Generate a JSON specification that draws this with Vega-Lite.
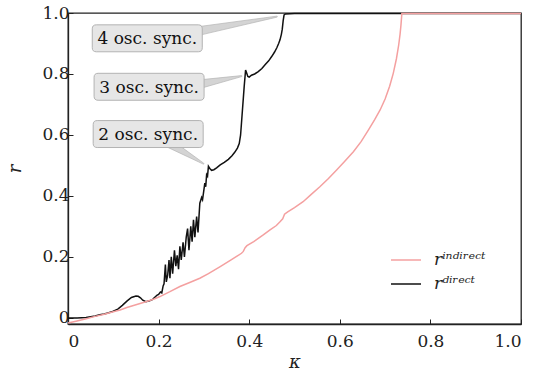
{
  "$schema": "https://vega.github.io/schema/vega-lite/v6.json",
  "width": 453,
  "height": 311,
  "autosize": {"type": "none"},
  "padding": {"left": 68, "top": 13, "right": 21, "bottom": 46},
  "config": {
    "view": {"stroke": "#222222", "strokeWidth": 1.3},
    "font": "DejaVu Serif",
    "axis": {
      "grid": false,
      "domainColor": "#222222",
      "domainWidth": 1.3,
      "tickColor": "#222222",
      "tickWidth": 1,
      "tickSize": -5,
      "labelFont": "DejaVu Serif",
      "labelFontSize": 17,
      "labelColor": "#222222",
      "titleFont": "DejaVu Serif",
      "titleFontSize": 18,
      "titleFontStyle": "italic",
      "titleFontWeight": "normal",
      "titleColor": "#222222"
    }
  },
  "datasets": {
    "curves": [
      {"series": "direct", "kappa": 0.0, "r": 0.0},
      {"series": "direct", "kappa": 0.02, "r": 0.0},
      {"series": "direct", "kappa": 0.04, "r": 0.001},
      {"series": "direct", "kappa": 0.06, "r": 0.006},
      {"series": "direct", "kappa": 0.07, "r": 0.01},
      {"series": "direct", "kappa": 0.08, "r": 0.013},
      {"series": "direct", "kappa": 0.09, "r": 0.017},
      {"series": "direct", "kappa": 0.1, "r": 0.022},
      {"series": "direct", "kappa": 0.11, "r": 0.029},
      {"series": "direct", "kappa": 0.12, "r": 0.041},
      {"series": "direct", "kappa": 0.13, "r": 0.055},
      {"series": "direct", "kappa": 0.14, "r": 0.067},
      {"series": "direct", "kappa": 0.15, "r": 0.072},
      {"series": "direct", "kappa": 0.155, "r": 0.071},
      {"series": "direct", "kappa": 0.16, "r": 0.066},
      {"series": "direct", "kappa": 0.165, "r": 0.058},
      {"series": "direct", "kappa": 0.172, "r": 0.053},
      {"series": "direct", "kappa": 0.18, "r": 0.056},
      {"series": "direct", "kappa": 0.187, "r": 0.061},
      {"series": "direct", "kappa": 0.192, "r": 0.068},
      {"series": "direct", "kappa": 0.196, "r": 0.074},
      {"series": "direct", "kappa": 0.2, "r": 0.077},
      {"series": "direct", "kappa": 0.204, "r": 0.085},
      {"series": "direct", "kappa": 0.207, "r": 0.082},
      {"series": "direct", "kappa": 0.21, "r": 0.105},
      {"series": "direct", "kappa": 0.212, "r": 0.112},
      {"series": "direct", "kappa": 0.215, "r": 0.175},
      {"series": "direct", "kappa": 0.217, "r": 0.118},
      {"series": "direct", "kappa": 0.22, "r": 0.14},
      {"series": "direct", "kappa": 0.223, "r": 0.19},
      {"series": "direct", "kappa": 0.225, "r": 0.13},
      {"series": "direct", "kappa": 0.228, "r": 0.2},
      {"series": "direct", "kappa": 0.231, "r": 0.145},
      {"series": "direct", "kappa": 0.235, "r": 0.222},
      {"series": "direct", "kappa": 0.238, "r": 0.17},
      {"series": "direct", "kappa": 0.241, "r": 0.205},
      {"series": "direct", "kappa": 0.244, "r": 0.16},
      {"series": "direct", "kappa": 0.247, "r": 0.235},
      {"series": "direct", "kappa": 0.25, "r": 0.19},
      {"series": "direct", "kappa": 0.254, "r": 0.248},
      {"series": "direct", "kappa": 0.257, "r": 0.2},
      {"series": "direct", "kappa": 0.261, "r": 0.265},
      {"series": "direct", "kappa": 0.264, "r": 0.293},
      {"series": "direct", "kappa": 0.267, "r": 0.222},
      {"series": "direct", "kappa": 0.271, "r": 0.3},
      {"series": "direct", "kappa": 0.274, "r": 0.25},
      {"series": "direct", "kappa": 0.277, "r": 0.322},
      {"series": "direct", "kappa": 0.28, "r": 0.265},
      {"series": "direct", "kappa": 0.284, "r": 0.332},
      {"series": "direct", "kappa": 0.287, "r": 0.28},
      {"series": "direct", "kappa": 0.291, "r": 0.376},
      {"series": "direct", "kappa": 0.295, "r": 0.395},
      {"series": "direct", "kappa": 0.297, "r": 0.388},
      {"series": "direct", "kappa": 0.3, "r": 0.42},
      {"series": "direct", "kappa": 0.302, "r": 0.442},
      {"series": "direct", "kappa": 0.304, "r": 0.43},
      {"series": "direct", "kappa": 0.306, "r": 0.47},
      {"series": "direct", "kappa": 0.308, "r": 0.465},
      {"series": "direct", "kappa": 0.31, "r": 0.497},
      {"series": "direct", "kappa": 0.313, "r": 0.49},
      {"series": "direct", "kappa": 0.317, "r": 0.484},
      {"series": "direct", "kappa": 0.322, "r": 0.486},
      {"series": "direct", "kappa": 0.328, "r": 0.492},
      {"series": "direct", "kappa": 0.336, "r": 0.502},
      {"series": "direct", "kappa": 0.345, "r": 0.51},
      {"series": "direct", "kappa": 0.354, "r": 0.52},
      {"series": "direct", "kappa": 0.362, "r": 0.532},
      {"series": "direct", "kappa": 0.368, "r": 0.543},
      {"series": "direct", "kappa": 0.374, "r": 0.557},
      {"series": "direct", "kappa": 0.378, "r": 0.572},
      {"series": "direct", "kappa": 0.381, "r": 0.6},
      {"series": "direct", "kappa": 0.383, "r": 0.64},
      {"series": "direct", "kappa": 0.385, "r": 0.68},
      {"series": "direct", "kappa": 0.387, "r": 0.72},
      {"series": "direct", "kappa": 0.389, "r": 0.76},
      {"series": "direct", "kappa": 0.391, "r": 0.795},
      {"series": "direct", "kappa": 0.392, "r": 0.813},
      {"series": "direct", "kappa": 0.394, "r": 0.805},
      {"series": "direct", "kappa": 0.397, "r": 0.792},
      {"series": "direct", "kappa": 0.4, "r": 0.79},
      {"series": "direct", "kappa": 0.405, "r": 0.796},
      {"series": "direct", "kappa": 0.412, "r": 0.8},
      {"series": "direct", "kappa": 0.42, "r": 0.808},
      {"series": "direct", "kappa": 0.428, "r": 0.818},
      {"series": "direct", "kappa": 0.435, "r": 0.83},
      {"series": "direct", "kappa": 0.443, "r": 0.843},
      {"series": "direct", "kappa": 0.45, "r": 0.858},
      {"series": "direct", "kappa": 0.456, "r": 0.872},
      {"series": "direct", "kappa": 0.461, "r": 0.886},
      {"series": "direct", "kappa": 0.465, "r": 0.9},
      {"series": "direct", "kappa": 0.468, "r": 0.912},
      {"series": "direct", "kappa": 0.471, "r": 0.93},
      {"series": "direct", "kappa": 0.473, "r": 0.947},
      {"series": "direct", "kappa": 0.475, "r": 0.975},
      {"series": "direct", "kappa": 0.477, "r": 0.994},
      {"series": "direct", "kappa": 0.48, "r": 0.997},
      {"series": "direct", "kappa": 0.5, "r": 0.998},
      {"series": "direct", "kappa": 0.6, "r": 0.998},
      {"series": "direct", "kappa": 1.0, "r": 0.998},
      {"series": "indirect", "kappa": 0.0, "r": -0.017},
      {"series": "indirect", "kappa": 0.02, "r": -0.01},
      {"series": "indirect", "kappa": 0.04, "r": -0.003},
      {"series": "indirect", "kappa": 0.06, "r": 0.005},
      {"series": "indirect", "kappa": 0.08, "r": 0.012},
      {"series": "indirect", "kappa": 0.1, "r": 0.02},
      {"series": "indirect", "kappa": 0.115, "r": 0.026},
      {"series": "indirect", "kappa": 0.13, "r": 0.034},
      {"series": "indirect", "kappa": 0.15, "r": 0.043},
      {"series": "indirect", "kappa": 0.17, "r": 0.052},
      {"series": "indirect", "kappa": 0.19, "r": 0.062},
      {"series": "indirect", "kappa": 0.203, "r": 0.07},
      {"series": "indirect", "kappa": 0.225, "r": 0.086},
      {"series": "indirect", "kappa": 0.247, "r": 0.103},
      {"series": "indirect", "kappa": 0.27, "r": 0.117},
      {"series": "indirect", "kappa": 0.291, "r": 0.13},
      {"series": "indirect", "kappa": 0.31, "r": 0.145},
      {"series": "indirect", "kappa": 0.336, "r": 0.168},
      {"series": "indirect", "kappa": 0.36, "r": 0.19},
      {"series": "indirect", "kappa": 0.383, "r": 0.212},
      {"series": "indirect", "kappa": 0.387, "r": 0.218},
      {"series": "indirect", "kappa": 0.391, "r": 0.23},
      {"series": "indirect", "kappa": 0.395, "r": 0.237},
      {"series": "indirect", "kappa": 0.41, "r": 0.25},
      {"series": "indirect", "kappa": 0.431, "r": 0.272},
      {"series": "indirect", "kappa": 0.446, "r": 0.289},
      {"series": "indirect", "kappa": 0.46, "r": 0.303},
      {"series": "indirect", "kappa": 0.468, "r": 0.315},
      {"series": "indirect", "kappa": 0.474, "r": 0.325},
      {"series": "indirect", "kappa": 0.478, "r": 0.34},
      {"series": "indirect", "kappa": 0.485, "r": 0.348},
      {"series": "indirect", "kappa": 0.5, "r": 0.362},
      {"series": "indirect", "kappa": 0.519, "r": 0.381},
      {"series": "indirect", "kappa": 0.537, "r": 0.405},
      {"series": "indirect", "kappa": 0.556, "r": 0.43},
      {"series": "indirect", "kappa": 0.575, "r": 0.457},
      {"series": "indirect", "kappa": 0.593, "r": 0.485},
      {"series": "indirect", "kappa": 0.61, "r": 0.512},
      {"series": "indirect", "kappa": 0.63, "r": 0.545},
      {"series": "indirect", "kappa": 0.647, "r": 0.578},
      {"series": "indirect", "kappa": 0.663, "r": 0.616},
      {"series": "indirect", "kappa": 0.677, "r": 0.65},
      {"series": "indirect", "kappa": 0.689, "r": 0.682},
      {"series": "indirect", "kappa": 0.7, "r": 0.718},
      {"series": "indirect", "kappa": 0.71, "r": 0.76},
      {"series": "indirect", "kappa": 0.718, "r": 0.802},
      {"series": "indirect", "kappa": 0.725, "r": 0.85},
      {"series": "indirect", "kappa": 0.73, "r": 0.895},
      {"series": "indirect", "kappa": 0.733, "r": 0.93},
      {"series": "indirect", "kappa": 0.735, "r": 0.96},
      {"series": "indirect", "kappa": 0.737, "r": 0.998},
      {"series": "indirect", "kappa": 0.8, "r": 0.998},
      {"series": "indirect", "kappa": 1.0, "r": 0.998}
    ],
    "boxes": [
      {"label": "4 osc. sync.", "kappa": 0.175, "r": 0.917},
      {"label": "3 osc. sync.", "kappa": 0.179, "r": 0.758},
      {"label": "2 osc. sync.", "kappa": 0.177, "r": 0.603}
    ],
    "wedges": [
      {"ann": "4", "end": 0, "kappa": 0.292, "r": 0.942, "w": 1},
      {"ann": "4", "end": 1, "kappa": 0.461, "r": 0.988, "w": 0},
      {"ann": "3", "end": 0, "kappa": 0.292, "r": 0.767, "w": 1},
      {"ann": "3", "end": 1, "kappa": 0.383, "r": 0.793, "w": 0},
      {"ann": "2", "end": 0, "kappa": 0.224, "r": 0.572, "w": 1},
      {"ann": "2", "end": 1, "kappa": 0.299, "r": 0.506, "w": 0}
    ]
  },
  "layer": [
    {
      "data": {"name": "curves"},
      "mark": {"type": "line", "strokeWidth": 1.5},
      "encoding": {
        "x": {
          "field": "kappa", "type": "quantitative",
          "scale": {"domain": [0, 1], "nice": false, "zero": false},
          "axis": {
            "title": "κ",
            "values": [0, 0.2, 0.4, 0.6, 0.8, 1.0],
            "labelExpr": "datum.value == 0 ? '0' : format(datum.value, '.1f')",
            "labelPadding": 14,
            "titlePadding": 4
          }
        },
        "y": {
          "field": "r", "type": "quantitative",
          "scale": {"domain": [-0.02, 1.0], "nice": false, "zero": false},
          "axis": {
            "title": "r",
            "values": [0, 0.2, 0.4, 0.6, 0.8, 1.0],
            "labelExpr": "datum.value == 0 ? '0' : format(datum.value, '.1f')",
            "labelPadding": 4,
            "titlePadding": 17
          }
        },
        "color": {
          "field": "series", "type": "nominal",
          "scale": {"domain": ["indirect", "direct"], "range": ["#f4a0a0", "#111111"]},
          "legend": {
            "title": null,
            "orient": "none",
            "legendX": 322,
            "legendY": 231,
            "padding": 0,
            "symbolType": "stroke",
            "symbolSize": 900,
            "symbolStrokeWidth": 1.5,
            "labelOffset": 12,
            "labelFont": "DejaVu Serif",
            "labelFontStyle": "italic",
            "labelFontSize": 17,
            "labelColor": "#222222",
            "rowPadding": -8,
            "labelExpr": "datum.value == 'indirect' ? 'rⁱⁿᵈⁱʳᵉᶜᵗ' : 'rᵈⁱʳᵉᶜᵗ'"
          }
        }
      }
    },
    {
      "data": {"name": "wedges"},
      "mark": {"type": "trail", "color": "#d4d4d4", "stroke": "#b5b5b5", "strokeWidth": 0.7},
      "encoding": {
        "x": {"field": "kappa", "type": "quantitative"},
        "y": {"field": "r", "type": "quantitative"},
        "detail": {"field": "ann", "type": "nominal"},
        "order": {"field": "end", "type": "quantitative"},
        "size": {"field": "w", "type": "quantitative", "scale": {"domain": [0, 1], "range": [0, 8.5]}, "legend": null}
      }
    },
    {
      "data": {"name": "boxes"},
      "mark": {
        "type": "point",
        "shape": "M -0.927 -0.245 L 0.927 -0.245 Q 1 -0.245 1 -0.172 L 1 0.172 Q 1 0.245 0.927 0.245 L -0.927 0.245 Q -1 0.245 -1 0.172 L -1 -0.172 Q -1 -0.245 -0.927 -0.245 Z",
        "size": 12100,
        "filled": true,
        "fill": "#e6e6e6",
        "stroke": "#b3b3b3",
        "strokeWidth": 1,
        "opacity": 1
      },
      "encoding": {
        "x": {"field": "kappa", "type": "quantitative"},
        "y": {"field": "r", "type": "quantitative"}
      }
    },
    {
      "data": {"name": "boxes"},
      "mark": {"type": "text", "font": "DejaVu Serif", "fontSize": 17, "color": "#111111", "align": "center", "baseline": "middle", "dy": 1},
      "encoding": {
        "x": {"field": "kappa", "type": "quantitative"},
        "y": {"field": "r", "type": "quantitative"},
        "text": {"field": "label", "type": "nominal"}
      }
    }
  ]
}
